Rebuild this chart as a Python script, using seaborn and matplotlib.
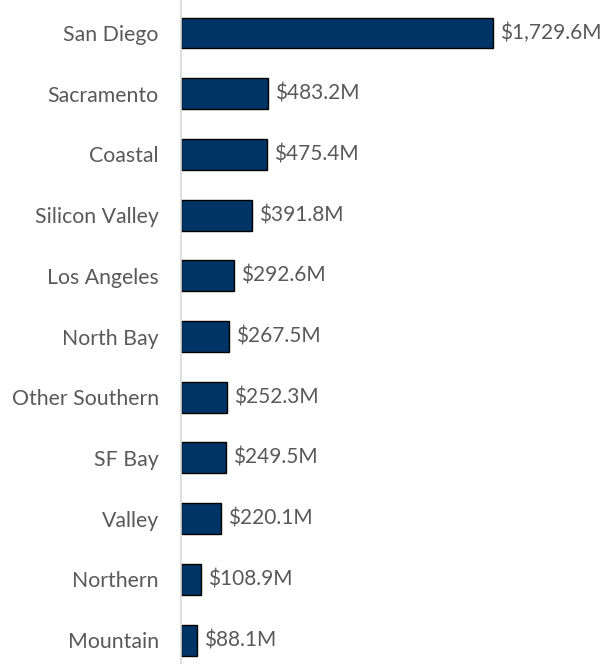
import pandas as pd
import numpy as np
import matplotlib
matplotlib.use("Agg")
import matplotlib.pyplot as plt
import seaborn as sns

# === Data ===
regions = ["San Diego", "Sacramento", "Coastal", "Silicon Valley", "Los Angeles",
           "North Bay", "Other Southern", "SF Bay", "Valley", "Northern", "Mountain"]
amounts = [1729.6, 483.2, 475.4, 391.8, 292.6, 267.5, 252.3, 249.5, 220.1, 108.9, 88.1]
value_labels = ["$1,729.6M", "$483.2M", "$475.4M", "$391.8M", "$292.6M", "$267.5M",
                "$252.3M", "$249.5M", "$220.1M", "$108.9M", "$88.1M"]

df = pd.DataFrame({"region": regions, "amount": amounts})

sns.set_style("white")
plt.rcParams['font.family'] = ['Lato', 'DejaVu Sans']

fig = plt.figure(figsize=(6.09, 6.64), dpi=100)
ax = fig.add_axes([181 / 609, 0, 1 - 181 / 609, 1])

sns.barplot(data=df, x="amount", y="region", orient="h", color="#003366",
            edgecolor="black", linewidth=1, width=0.51, saturation=1, ax=ax)

# === Value labels ===
for i, (v, lab) in enumerate(zip(amounts, value_labels)):
    ax.text(v + 40, i, lab, va="center", ha="left", fontsize=15, color="#595959")

ax.set_xlim(0, 2372)
ax.set_ylim(10.395, -0.544)
ax.set_xlabel("")
ax.set_ylabel("")
ax.set_xticks([])
ax.tick_params(axis="y", length=0, pad=16, labelsize=15.3, labelcolor="#595959")

for s in ["top", "right", "bottom"]:
    ax.spines[s].set_visible(False)
ax.spines["left"].set_color("#D9D9D9")
ax.spines["left"].set_linewidth(1.2)

fig.savefig("out.png", dpi=100)
